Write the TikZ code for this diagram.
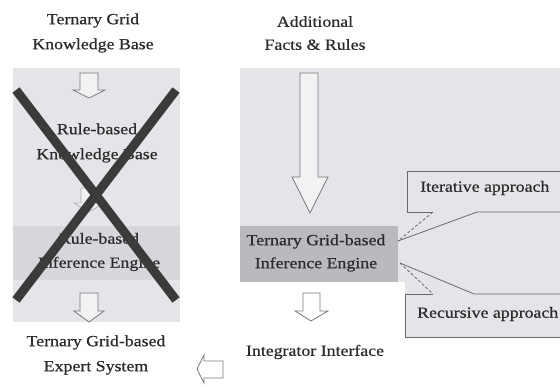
\documentclass[tikz,border=0pt]{standalone}
\usepackage{fontspec}
\setmainfont[FakeStretch=1.15,FakeBold=0.6]{Liberation Serif}
\definecolor{panelgray}{HTML}{E3E5E8}
\definecolor{bandgray}{HTML}{D6D7DB}
\definecolor{enginegray}{HTML}{B9BABF}
\definecolor{ink}{HTML}{2B2B2B}
\definecolor{edgegray}{HTML}{6A6A6A}
\definecolor{arrowgray}{HTML}{7A7A7A}
\definecolor{crossgray}{HTML}{3B3B3B}
\begin{document}
\begin{tikzpicture}[x=1pt,y=-1pt,
  lbl/.style={font=\fontsize{15.5}{23}\selectfont, text=ink, align=center, inner sep=0pt},
  blockarrow/.style={draw=arrowgray, line width=0.8pt, fill=panelgray!50!white},
  callout/.style={draw=edgegray, line width=0.8pt},
  pointer/.style={draw=edgegray, line width=0.8pt, densely dashed},
  cross/.style={draw=crossgray, line width=9pt}]
\useasboundingbox (0,0) rectangle (560,386);
\fill[white] (0,0) rectangle (560,386);

% background panels
\fill[panelgray] (13,68) rectangle (180,322);
\fill[bandgray] (13,226) rectangle (180,280);
\fill[panelgray] (240,68) rectangle (560,282);
\fill[panelgray] (405,282) rectangle (560,337);
\fill[enginegray] (240,226) rectangle (398,282);

% hollow block arrows, left column
\draw[blockarrow] (80,73) -- (98,73) -- (98,90) -- (105,90) -- (89,98) -- (73,90) -- (80,90) -- cycle;
\draw[blockarrow, draw=arrowgray!60] (81,188) -- (97,188) -- (97,203) -- (104,203) -- (89,212) -- (74,203) -- (81,203) -- cycle;
\draw[blockarrow] (80,293) -- (98,293) -- (98,311) -- (104,311) -- (89,322) -- (74,311) -- (80,311) -- cycle;

% big arrow: additional facts into the engine
\draw[blockarrow] (300,73) -- (318,73) -- (318,177) -- (328,177) -- (310,213) -- (292,177) -- (300,177) -- cycle;

% engine to integrator interface
\draw[blockarrow, fill=white] (303,293) -- (320,293) -- (320,311) -- (328,311) -- (311,321) -- (295,311) -- (303,311) -- cycle;

% integrator interface back to the expert system
\draw[blockarrow, fill=white] (223,361) -- (204,361) -- (204,355) -- (197,369) -- (204,383) -- (204,378) -- (223,378) -- cycle;

% labels
\node[lbl] (kbtitle) at (93,33) {Ternary Grid\\[2pt]Knowledge Base};
\node[lbl] (rbkb) at (97,143) {Rule-based\\[2pt]Knowledge Base};
\node[lbl] (rbie) at (99,252) {Rule-based\\[1pt]Inference Engine};
\node[lbl] (expert) at (96,355) {Ternary Grid-based\\[2pt]Expert System};
\node[lbl] (facts) at (315,33) {Additional\\Facts \& Rules};
\node[lbl] (engine) at (316,253) {Ternary Grid-based\\Inference Engine};
\node[lbl] (integrator) at (315,352) {Integrator Interface};
\node[lbl, anchor=west] (iterative) at (420,188) {Iterative approach};
\node[lbl, anchor=west] (recursive) at (417,314) {Recursive approach};

% callouts pointing at the engine
\coordinate (itTip) at (398,241);
\coordinate (recTip) at (400,263);
\draw[callout] (560,171) -- (407,171) -- (407,212) -- (433,212);
\draw[pointer] (433,212) -- (itTip);
\draw[callout] (itTip) -- (477,212) -- (560,212);
\draw[callout] (560,294) -- (474,294) -- (recTip);
\draw[pointer] (recTip) -- (433,294);
\draw[callout] (433,294) -- (405,294) -- (405,337) -- (560,337);

% the crossed-out rule-based pipeline
\draw[cross] (16,90) -- (176,300);
\draw[cross] (176,90) -- (16,300);
\end{tikzpicture}
\end{document}
